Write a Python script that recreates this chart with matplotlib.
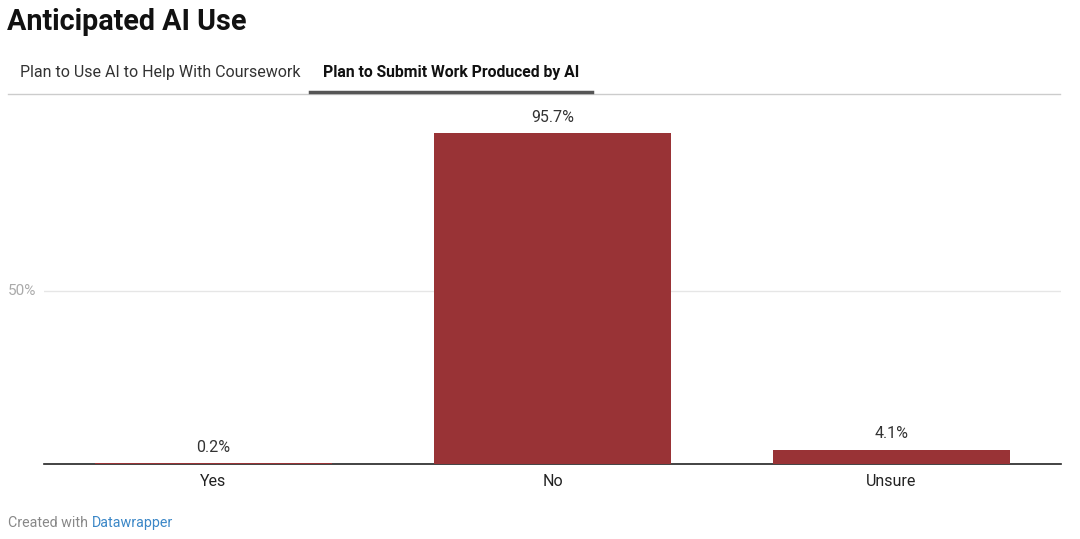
import matplotlib
matplotlib.use("Agg")
import matplotlib.pyplot as plt
from matplotlib.lines import Line2D

plt.rcParams['font.family'] = ['Roboto', 'DejaVu Sans']

categories = ["Yes", "No", "Unsure"]
values = [0.2, 95.7, 4.1]
value_labels = ["0.2%", "95.7%", "4.1%"]
title = "Anticipated AI Use"
tabs = ["Plan to Use AI to Help With Coursework", "Plan to Submit Work Produced by AI"]

W, H = 1080, 539
fig = plt.figure(figsize=(W / 100, H / 100), dpi=100)
fig.patch.set_facecolor("white")

ax = fig.add_axes([44 / W, 75 / H, 1017 / W, 346 / H])
x = list(range(len(categories)))
bars = ax.bar(x, values, width=0.7, color="#993336", zorder=3)
ax.set_xlim(-0.5, len(categories) - 0.5)
ax.set_ylim(0, 100)
for s in ["top", "right", "left"]:
    ax.spines[s].set_visible(False)
ax.spines["bottom"].set_color("#222222")
ax.spines["bottom"].set_linewidth(1.2)
ax.set_yticks([50])
ax.set_yticklabels([])
ax.tick_params(axis="y", length=0)
ax.yaxis.grid(True, color="#e6e6e6", linewidth=1, zorder=0)
ax.set_xticks(x)
ax.set_xticklabels(categories, fontsize=11.5, color="#222222")
ax.tick_params(axis="x", length=0, pad=7)

for xi, v, lab in zip(x, values, value_labels):
    ax.annotate(lab, (xi, v), xytext=(0, 6), textcoords="offset points",
                ha="center", va="bottom", fontsize=11.5, color="#333333")

fig.text(8 / W, 1 - 291 / H, "50%", fontsize=11, color="#aaaaaa", ha="left", va="center")

fig.text(7 / W, 1 - 22 / H, title, fontsize=20.7, fontweight="bold", color="#111111",
         ha="left", va="center")
fig.text(20 / W, 1 - 72 / H, tabs[0], fontsize=11.5, color="#333333", ha="left", va="center")
fig.text(323 / W, 1 - 72 / H, tabs[1], fontsize=11.3, fontweight="bold", color="#111111",
         ha="left", va="center")

fig.add_artist(Line2D([8 / W, 1060 / W], [1 - 93.5 / H, 1 - 93.5 / H], color="#cccccc",
                      linewidth=1, transform=fig.transFigure))
fig.add_artist(Line2D([310 / W, 592 / W], [1 - 91.5 / H, 1 - 91.5 / H], color="#555555",
                      linewidth=2.5, transform=fig.transFigure))

t1 = fig.text(8 / W, 1 - 523 / H, "Created with ", fontsize=10.3, color="#888888",
              ha="left", va="center")
fig.canvas.draw()
bb = t1.get_window_extent()
fig.text(bb.x1 / W, 1 - 523 / H, "Datawrapper", fontsize=10.3, color="#3b87c7",
         ha="left", va="center")

fig.savefig("out.png", dpi=100)
